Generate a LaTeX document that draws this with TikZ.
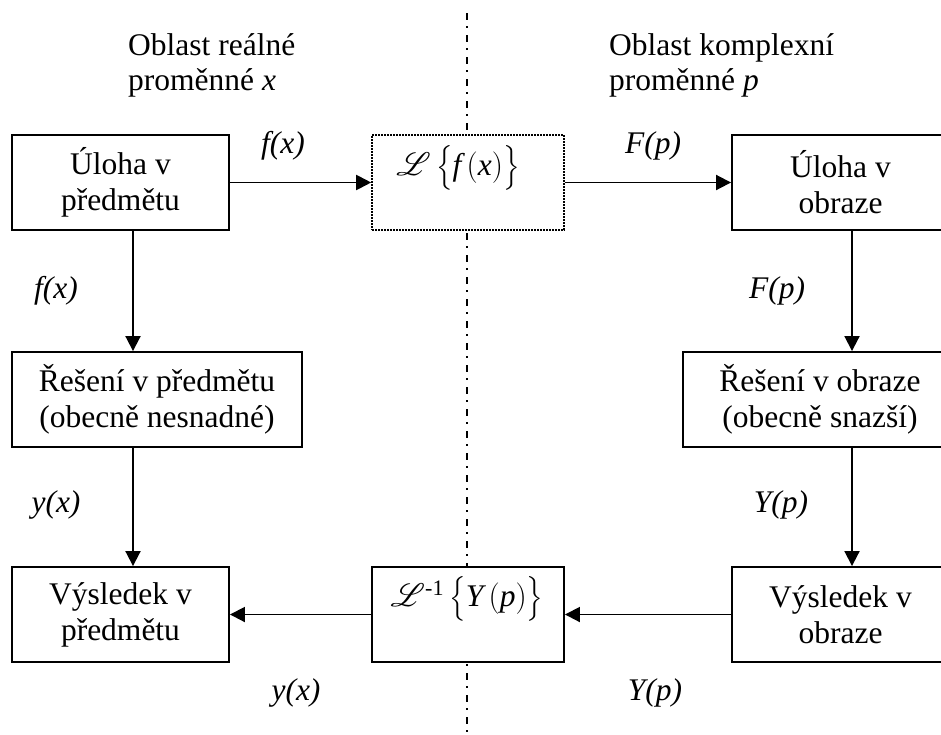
\RequirePackage{fix-cm}
\documentclass[tikz,border=0pt]{standalone}
\usepackage{fontspec}
\setmainfont{Liberation Serif}
\usepackage{amsmath}
\usepackage{graphicx}
\usepackage{mathrsfs}
\usetikzlibrary{arrows.meta}
\newcommand{\bigLap}{\scalebox{1.3}{$\mathscr{L}$}}
\begin{document}
\begin{tikzpicture}[x=1pt,y=-1pt,
  txt/.style={font=\fontsize{31.5}{36}\selectfont, inner sep=0pt},
  box/.style={txt, draw, fill=white, line width=1.9pt, align=center, inner sep=0pt},
  lbl/.style={font=\fontsize{31.5}{36}\selectfont\itshape, inner sep=0pt},
  arr/.style={line width=1.9pt, -{Triangle[length=15pt,width=15pt]}},
  divider/.style={line width=1.5pt, dash pattern=on 7pt off 6pt on 2pt off 7pt},
  dotbox/.style={box, line width=1.6pt, dash pattern=on 1.6pt off 1.4pt}]
\useasboundingbox (0,0) rectangle (941,734);
% divider
\coordinate (dtop) at (467,13);
\coordinate (dbot) at (467,734);
\draw[divider] (dtop) -- (dbot);
% headings
\node[txt, anchor=base west] (h1a) at (128,55) {Oblast reálné};
\node[txt, anchor=base west] (h1b) at (128,90) {proměnné \textit{x}};
\node[txt, anchor=base west] (h2a) at (609,55) {Oblast komplexní};
\node[txt, anchor=base west] (h2b) at (609,90) {proměnné \textit{p}};
% boxes
\node[box, minimum width=217pt, minimum height=95pt] (ul) at (120.5,182.5) {Úloha v\\předmětu};
\node[box, minimum width=290pt, minimum height=95pt] (rl) at (157,399.5) {Řešení v předmětu\\(obecně nesnadné)};
\node[box, minimum width=217pt, minimum height=95pt] (vl) at (120.5,614.5) {Výsledek v\\předmětu};
\node[dotbox, minimum width=192pt, minimum height=95pt] (lt) at (468,182.5) {};
\node[txt] (ltt) at (458,168) {\bigLap$\,\bigl\{\textit{f}\,(\textit{x})\bigr\}$};
\node[box, minimum width=192pt, minimum height=95pt] (il) at (468,614.5) {};
\node[txt] (ilt) at (467,599) {\bigLap$^{\text{-1}}\,\bigl\{\textit{Y}\,(\textit{p})\bigr\}$};
\node[box, minimum width=217pt, minimum height=95pt] (ur) at (840.5,182.5) {Úloha v\\obraze};
\node[box, minimum width=274pt, minimum height=95pt] (rr) at (820,399.5) {Řešení v obraze\\(obecně snazší)};
\node[box, minimum width=217pt, minimum height=95pt] (vr) at (840.5,614.5) {Výsledek v\\obraze};
% connectors
\coordinate (xl) at (133,0);
\coordinate (xr) at (852,0);
\draw[arr] (ul) -- (lt);
\draw[arr] (lt) -- (ur);
\draw[arr] (ul.south -| xl) -- (rl.north -| xl);
\draw[arr] (rl.south -| xl) -- (vl.north -| xl);
\draw[arr] (ur.south -| xr) -- (rr.north -| xr);
\draw[arr] (rr.south -| xr) -- (vr.north -| xr);
\draw[arr] (vr) -- (il);
\draw[arr] (il) -- (vl);
% labels
\node[lbl] (l1) at (283,146) {f(x)};
\node[lbl] (l2) at (653,146) {F(p)};
\node[lbl] (l3) at (56,291) {f(x)};
\node[lbl] (l4) at (777,291) {F(p)};
\node[lbl] (l5) at (56,505) {y(x)};
\node[lbl] (l6) at (781,505) {Y(p)};
\node[lbl] (l7) at (296,693) {y(x)};
\node[lbl] (l8) at (655,693) {Y(p)};
\end{tikzpicture}
\end{document}
